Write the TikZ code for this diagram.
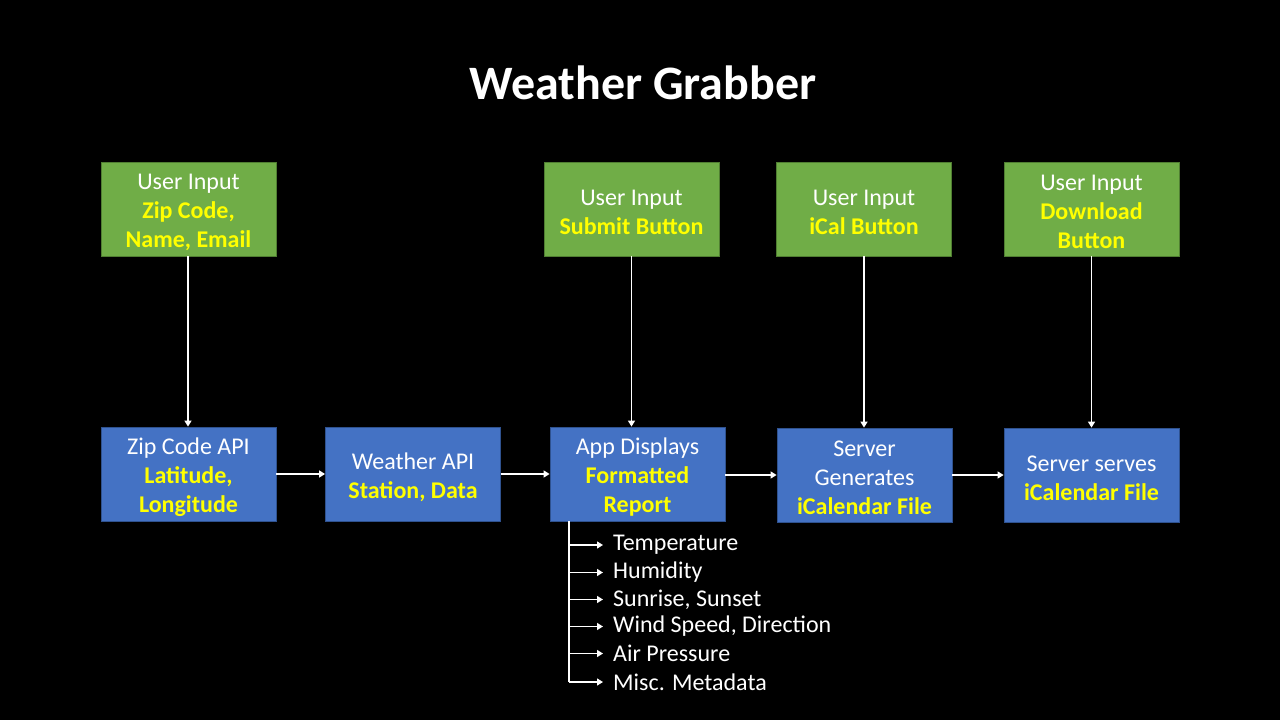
\documentclass[tikz,border=0pt]{standalone}
\usepackage{fontspec}
\setmainfont{Carlito}
\usetikzlibrary{arrows.meta}
\definecolor{ugreen}{HTML}{70AD47}
\definecolor{ugreenb}{HTML}{507E32}
\definecolor{ublue}{HTML}{4472C4}
\definecolor{ubluedk}{HTML}{2F528F}
\definecolor{uyel}{HTML}{FFFF00}
\tikzset{
  box/.style={minimum width=175pt, minimum height=94pt, inner sep=0pt, line width=0.8pt},
  boxtxt/.style={text=white, align=center, inner sep=0pt, font=\fontsize{24}{29}\selectfont, yshift=-3pt},
  inbox/.style={box, fill=ugreen, draw=ugreenb},
  apibox/.style={box, fill=ublue, draw=ubluedk},
  flow/.style={draw=white, line width=1.4pt, -{Triangle[length=6pt,width=7pt]}},
  item/.style={anchor=west, inner xsep=10pt, inner ysep=0pt, text=white, font=\fontsize{24}{28}\selectfont},
}
\newcommand{\hl}[1]{\textbf{\textcolor{uyel}{#1}}}
\begin{document}
\begin{tikzpicture}[x=1pt,y=-1pt]
\fill[black] (0,0) rectangle (1280,720);
\useasboundingbox (0,0) rectangle (1280,720);
\node[text=white, font=\fontsize{48}{56}\selectfont\bfseries] (title) at (643,83) {Weather Grabber};

\node[inbox, label={[boxtxt]center:{User Input\\\hl{Zip Code,}\\\hl{Name, Email}}}] (u1) at (188.5,209) {};
\node[inbox, label={[boxtxt]center:{User Input\\\hl{Submit Button}}}] (u2) at (631.5,209) {};
\node[inbox, label={[boxtxt]center:{User Input\\\hl{iCal Button}}}] (u3) at (864,209) {};
\node[inbox, label={[boxtxt]center:{User Input\\\hl{Download}\\\hl{Button}}}] (u4) at (1091.5,209) {};

\node[apibox, label={[boxtxt]center:{Zip Code API\\\hl{Latitude,}\\\hl{Longitude}}}] (b1) at (188.5,474) {};
\node[apibox, label={[boxtxt]center:{Weather API\\\hl{Station, Data}}}] (b2) at (413,474) {};
\node[apibox, label={[boxtxt]center:{App Displays\\\hl{Formatted}\\\hl{Report}}}] (b3) at (637.5,474) {};
\node[apibox, label={[boxtxt]center:{Server\\Generates\\\hl{iCalendar File}}}] (b4) at (864.5,475) {};
\node[apibox, label={[boxtxt]center:{Server serves\\\hl{iCalendar File}}}] (b5) at (1091.5,475) {};

\draw[flow] (u1.south -| 188,0) -- (b1.north -| 188,0);
\draw[flow] (u2.south) -- (u2.south |- b3.north);
\draw[flow, line width=2pt] (u3.south) -- (u3.south |- b4.north);
\draw[flow] (u4.south) -- (b5.north);

\draw[flow] (b1.east) -- (b2.west);
\draw[flow] (b2.east) -- (b3.west);
\draw[flow] (b3.east |- 0,475) -- (b4.west);
\draw[flow] (b4.east) -- (b5.west);

\coordinate (trunk) at (569,521);
\node[item] (i1) at (603,545) {Temperature};
\node[item] (i2) at (603,572.5) {Humidity};
\node[item] (i3) at (603,599.5) {Sunrise, Sunset};
\node[item] (i4) at (603,626.5) {Wind Speed, Direction};
\node[item] (i5) at (603,653.5) {Air Pressure};
\node[item] (i6) at (603,682) {Misc. Metadata};
\draw[white, line width=1.4pt] (trunk) -- (trunk |- i6.west);
\foreach \i in {1,...,6}{
  \draw[flow] (trunk |- i\i.west) -- (i\i.west);
}
\end{tikzpicture}
\end{document}
